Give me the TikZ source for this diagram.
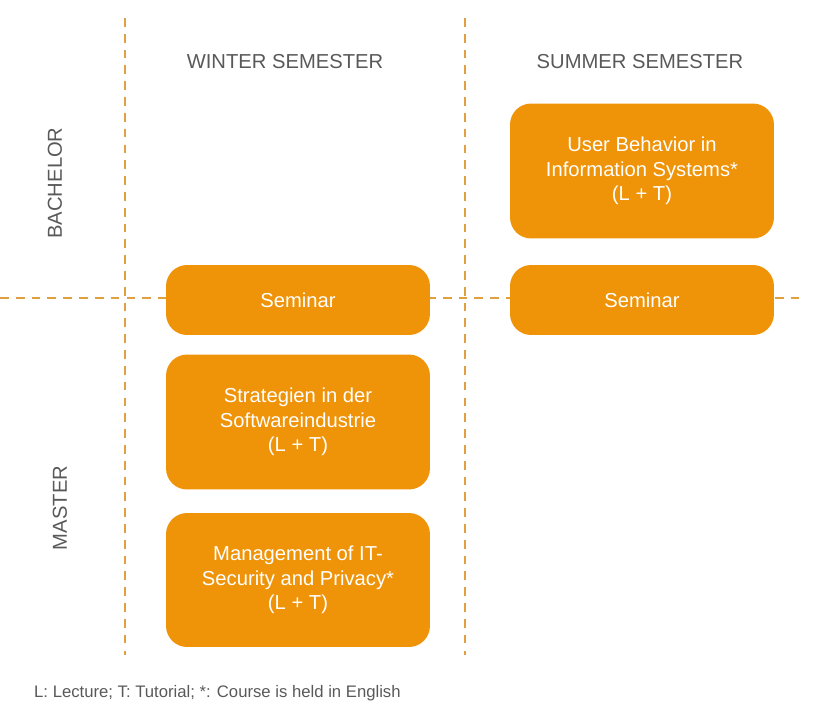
\documentclass[tikz,border=0pt]{standalone}
\usepackage{fontspec}
\setmainfont{Liberation Sans}
\definecolor{courseorange}{HTML}{EF9308}
\definecolor{guidegold}{HTML}{E0A040}
\definecolor{labelgray}{HTML}{595959}
\tikzset{
  course/.style={fill=courseorange, rounded corners=12pt, text=white, align=center,
    font=\fontsize{11.5}{14}\selectfont, minimum width=5.28cm, inner sep=0pt},
  guide/.style={guidegold, dashed, dash pattern=on 5pt off 4pt, thick},
  header/.style={text=labelgray, font=\fontsize{11.5}{14}\selectfont}
}
\begin{document}
\begin{tikzpicture}[x=0.02cm, y=-0.02cm]
	\useasboundingbox (0,0) rectangle (816,717);
	% guides
	\draw[guide] (125,18) -- (125,655);
	\draw[guide] (465,18) -- (465,655);
	\draw[guide] (0,298) -- (805,298);
	% headers
	\node[header] (winter) at (285,62) {WINTER SEMESTER};
	\node[header] (summer) at (640,62) {SUMMER SEMESTER};
	\node[header, rotate=90] (bachelor) at (55,183) {BACHELOR};
	\node[header, rotate=90] (master) at (60,508) {MASTER};
	% courses
	\node[course, minimum height=1.4cm] (seminarW) at (298,300) {Seminar};
	\node[course, minimum height=2.7cm] (strategien) at (298,422) {Strategien in der\\Softwareindustrie\\(L + T)};
	\node[course, minimum height=2.68cm] (security) at (298,580) {Management of IT-\\Security and Privacy*\\(L + T)};
	\node[course, minimum height=2.7cm] (behavior) at (642,171) {User Behavior in\\Information Systems*\\(L + T)};
	\node[course, minimum height=1.4cm] (seminarS) at (642,300) {Seminar};
	% legend
	\node[anchor=west, text=labelgray, font=\fontsize{9.5}{11}\selectfont] (legend) at (28,693)
	  {L: Lecture; T: Tutorial; *: Course is held in English};
\end{tikzpicture}
\end{document}
